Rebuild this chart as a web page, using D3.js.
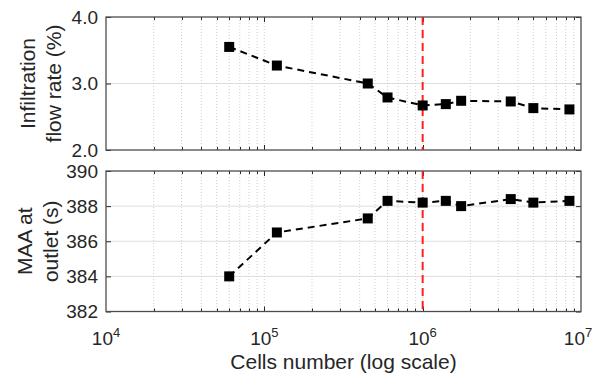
<!DOCTYPE html>
<meta charset="utf-8">
<style>
body { margin: 0; background: #fff; }
svg { font-family: "Liberation Sans", Arial, sans-serif; }
.tick text { fill: #262626; font-size: 19px; }
.tick line { stroke: #262626; }
.domain { stroke: none; }
</style>
<script src="https://cdn.jsdelivr.net/npm/d3@7"></script>
<body>
<script>

var cells = [6e4, 1.2e5, 4.5e5, 6e5, 1e6, 1.4e6, 1.75e6, 3.6e6, 5e6, 8.45e6];
var infiltration = [3.55, 3.27, 3.0, 2.79, 2.67, 2.69, 2.74, 2.73, 2.63, 2.61];
var maa = [384.0, 386.5, 387.3, 388.3, 388.2, 388.3, 388.0, 388.4, 388.2, 388.3];
var chosen = 1e6;
var xTicks = [1e4, 1e5, 1e6, 1e7];

var width = 594,
    height = 376;

var svg = d3.select("body").append("svg")
    .attr("width", width)
    .attr("height", height);

var left = 106, right = 581;

var x = d3.scaleLog()
    .domain([1e4, 1e7])
    .range([left, right]);

// minor positions 2..9 x 10^k
var minor = [];
[1e4, 1e5, 1e6].forEach(function(p) {
  for (var k = 2; k <= 9; k++) minor.push(k * p);
});

var panels = [
  { top: 17, bottom: 150, domain: [2, 4], ticks: [2, 3, 4], fmt: d3.format(".1f"),
    values: infiltration, label: ["Infiltration", "flow rate (%)"], labX: 35, showX: false },
  { top: 171, bottom: 311.5, domain: [382, 390], ticks: [382, 384, 386, 388, 390], fmt: d3.format("d"),
    values: maa, label: ["MAA at", "outlet (s)"], labX: 32, showX: true }
];

panels.forEach(function(p) {
  var y = d3.scaleLinear().domain(p.domain).range([p.bottom, p.top]);
  var g = svg.append("g");

  // horizontal grid
  g.selectAll(".hgrid").data(p.ticks.slice(1, -1)).enter().append("line")
    .attr("x1", left).attr("x2", right)
    .attr("y1", function(d) { return y(d); })
    .attr("y2", function(d) { return y(d); })
    .attr("stroke", "#dedede").attr("stroke-width", 1);

  // vertical dotted grid (minor + major)
  g.selectAll(".vgrid").data(minor.concat([1e5, 1e6])).enter().append("line")
    .attr("x1", function(d) { return x(d); })
    .attr("x2", function(d) { return x(d); })
    .attr("y1", p.top).attr("y2", p.bottom)
    .attr("stroke", "#cfcfcf").attr("stroke-width", 1)
    .attr("stroke-dasharray", "1,2");

  // minor ticks top and bottom, inside
  g.selectAll(".mt").data(minor).enter().append("path")
    .attr("d", function(d) {
      var xx = Math.round(x(d)) + 0.5;
      return "M" + xx + "," + p.bottom + "v-3M" + xx + "," + p.top + "v3";
    })
    .attr("stroke", "#262626").attr("stroke-width", 1);

  // major x ticks inside
  g.selectAll(".Mt").data(xTicks.slice(1, -1)).enter().append("path")
    .attr("d", function(d) {
      var xx = Math.round(x(d)) + 0.5;
      return "M" + xx + "," + p.bottom + "v-5M" + xx + "," + p.top + "v5";
    })
    .attr("stroke", "#262626").attr("stroke-width", 1);

  // y axis left
  g.append("g")
    .attr("transform", "translate(" + left + ",0)")
    .call(d3.axisLeft(y).tickValues(p.ticks).tickFormat(p.fmt).tickSizeInner(-5).tickSizeOuter(0).tickPadding(8));
  // y ticks right
  g.append("g")
    .attr("transform", "translate(" + right + ",0)")
    .call(d3.axisRight(y).tickValues(p.ticks).tickFormat("").tickSizeInner(-5).tickSizeOuter(0));

  // box
  g.append("rect")
    .attr("x", left).attr("y", p.top)
    .attr("width", right - left).attr("height", p.bottom - p.top)
    .attr("fill", "none").attr("stroke", "#4d4d4d").attr("stroke-width", 1.3);

  // red reference line
  g.append("line")
    .attr("x1", x(chosen)).attr("x2", x(chosen))
    .attr("y1", p.top).attr("y2", p.bottom)
    .attr("stroke", "#ff2020").attr("stroke-width", 2)
    .attr("stroke-dasharray", "8,5");

  // data line
  var line = d3.line()
    .x(function(d, i) { return x(cells[i]); })
    .y(function(d) { return y(d); });

  g.append("path")
    .datum(p.values)
    .attr("d", line)
    .attr("fill", "none")
    .attr("stroke", "#000")
    .attr("stroke-width", 2)
    .attr("stroke-dasharray", "7,5");

  g.selectAll(".pt").data(p.values).enter().append("rect")
    .attr("x", function(d, i) { return x(cells[i]) - 5; })
    .attr("y", function(d) { return y(d) - 5; })
    .attr("width", 10).attr("height", 10)
    .attr("fill", "#000");

  // y label
  var cy = (p.top + p.bottom) / 2;
  var lab = g.append("text")
    .attr("transform", "translate(" + p.labX + "," + cy + ") rotate(-90)")
    .attr("text-anchor", "middle")
    .attr("fill", "#262626")
    .style("font-size", "21px");
  lab.append("tspan").attr("x", 0).attr("dy", 0).text(p.label[0]);
  lab.append("tspan").attr("x", 0).attr("dy", 26).text(p.label[1]);

  if (p.showX) {
    // whole "10^k" centred on the tick, last one kept inside the page
    var xt = g.selectAll(".xl").data(xTicks).enter().append("text")
      .attr("x", function(d) { return Math.min(x(d), width - 16); })
      .attr("y", 345)
      .attr("text-anchor", "middle")
      .attr("fill", "#262626")
      .style("font-size", "19px");
    xt.append("tspan").text("10");
    xt.append("tspan")
      .attr("dy", -8)
      .style("font-size", "13px")
      .text(function(d) { return Math.round(Math.log10(d)); });
  }
});

svg.append("text")
  .attr("x", (left + right) / 2)
  .attr("y", 369)
  .attr("text-anchor", "middle")
  .attr("fill", "#262626")
  .style("font-size", "21px")
  .text("Cells number (log scale)");

</script>
</body>
